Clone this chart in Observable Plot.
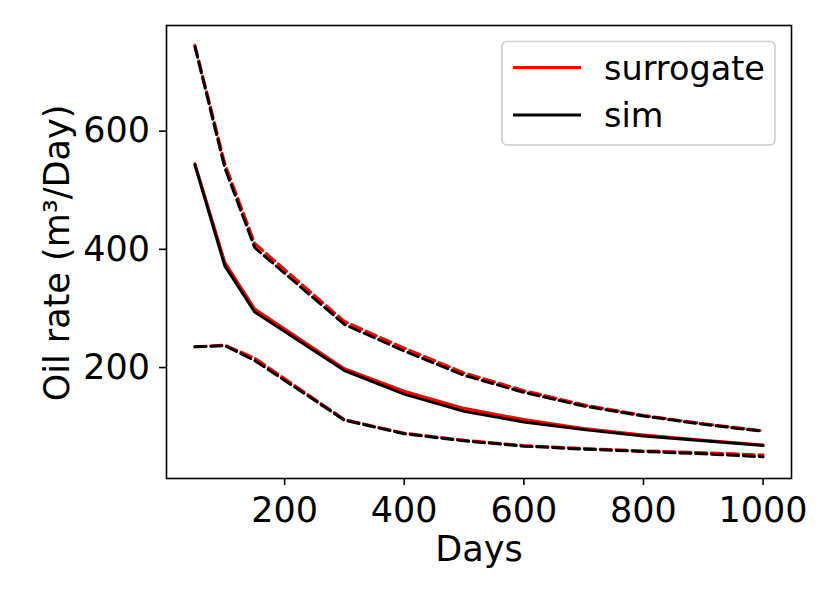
<!DOCTYPE html>
<html><head><meta charset="utf-8">
<script src="https://cdn.jsdelivr.net/npm/d3@7"></script>
<script src="https://cdn.jsdelivr.net/npm/@observablehq/plot@0.6"></script>
<style>html,body{margin:0;padding:0;background:#fff;}</style>
</head><body><div id="chart"></div>
<script>
const days = [50, 100, 150, 300, 400, 500, 600, 700, 800, 900, 1000];
const surUpper = [745, 545, 410, 278, 233, 191, 161, 137, 119, 105, 93];
const simUpper = [743, 538, 403, 273, 228, 187, 158, 135, 118, 104, 92];
const surMid = [545, 378, 299, 198, 160, 131, 112, 97, 86, 77, 69];
const simMid = [543, 372, 294, 195, 155, 126, 108, 95, 84, 76, 68];
const surLower = [235, 238, 216, 112, 89, 77, 68, 63, 59, 56, 52];
const simLower = [235, 237, 212, 111, 88, 76, 67, 62, 58, 54, 49];
const xTicks = [200, 400, 600, 800, 1000];
const yTicks = [200, 400, 600];
const legendNames = ["surrogate", "sim"];
const xLabel = "Days";
const yLabel = "Oil rate (m\u00b3/Day)";

const rows = [];
function add(model, kase, dashed, vals) {
  days.forEach((d, i) => rows.push({day: d, rate: vals[i], model, kase, dashed}));
}
add("surrogate", "upper", true, surUpper);
add("surrogate", "mid", false, surMid);
add("surrogate", "lower", true, surLower);
add("sim", "upper", true, simUpper);
add("sim", "mid", false, simMid);
add("sim", "lower", true, simLower);

const FS = 35;
const LW = 3, DASH = "11.1,4.8";
const colors = {surrogate: "#ff0000", sim: "#000000"};
const marks = [];
for (const m of ["surrogate", "sim"]) {
  marks.push(Plot.line(rows.filter(r => r.model === m && r.dashed), {x: "day", y: "rate", z: "kase", stroke: colors[m], strokeWidth: LW, strokeDasharray: DASH}));
  marks.push(Plot.line(rows.filter(r => r.model === m && !r.dashed), {x: "day", y: "rate", z: "kase", stroke: colors[m], strokeWidth: LW}));
}

const chart = Plot.plot({
  width: 830, height: 598,
  marginLeft: 166, marginRight: 39, marginTop: 25, marginBottom: 120,
  style: {fontFamily: "DejaVu Sans", fontSize: FS + "px", color: "#000", background: "#fff"},
  x: {domain: [2.5, 1047.5]},
  y: {domain: [12.3, 778.7]},
  marks: [
    ...marks,
    Plot.frame({stroke: "#000", strokeWidth: 1.6}),
    Plot.axisX({ticks: xTicks, tickSize: 7, tickPadding: 11.5, strokeWidth: 1.6, fontSize: FS, label: null, tickFormat: d => String(d)}),
    Plot.axisY({ticks: yTicks, tickSize: 7, tickPadding: 9.5, strokeWidth: 1.6, fontSize: FS, label: null, tickFormat: d => String(d)}),
    Plot.text([xLabel], {frameAnchor: "bottom", dy: 58, lineAnchor: "top", textAnchor: "middle", fontSize: FS, text: d => d}),
    Plot.text([yLabel], {frameAnchor: "left", dx: -109, dy: 1, rotate: -90, textAnchor: "middle", lineAnchor: "middle", fontSize: FS, text: d => d})
  ]
});
document.getElementById("chart").appendChild(chart);

// legend
const svg = d3.select(chart);
const LFS = 33.5;
const lg = svg.append("g").attr("font-family", "DejaVu Sans").attr("font-size", LFS).attr("text-anchor", "start");
lg.append("rect").attr("x", 502).attr("y", 41.5).attr("width", 273).attr("height", 103.5)
  .attr("rx", 5).attr("fill", "#fff").attr("fill-opacity", 0.8).attr("stroke", "#cccccc").attr("stroke-width", 1.6);
legendNames.forEach((name, i) => {
  const y = 67.5 + i * 47.5;
  lg.append("line").attr("x1", 513).attr("x2", 581).attr("y1", y).attr("y2", y)
    .attr("stroke", colors[name]).attr("stroke-width", LW);
  lg.append("text").attr("x", 604).attr("y", y + 12).attr("text-anchor", "start").text(name);
});
</script>
</body></html>
